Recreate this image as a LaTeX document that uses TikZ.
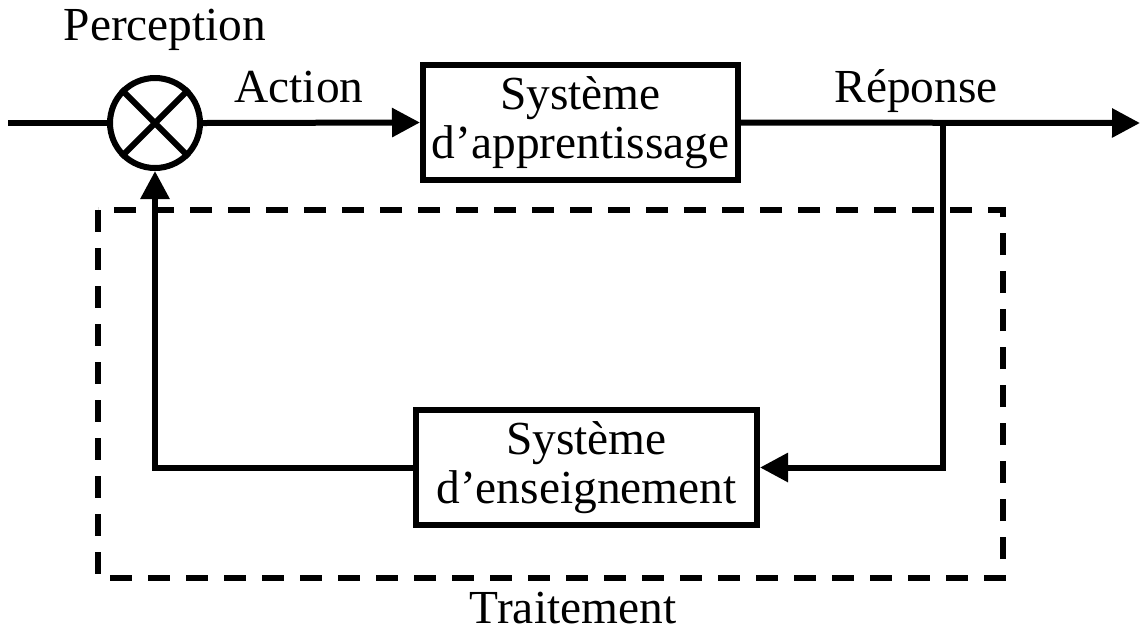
\documentclass[tikz,border=0pt]{standalone}
\usepackage{fontspec}
\setmainfont{Liberation Serif}
\usetikzlibrary{arrows.meta}
\begin{document}
\begin{tikzpicture}[x=0.5pt,y=-0.5pt,
  wire/.style={line width=3pt},
  arr/.style={wire,-{Triangle[length=14pt,width=14pt]}},
  block/.style={draw,line width=3pt,inner sep=0pt,align=center,
    font=\fontsize{23.7}{24.5}\selectfont},
  lbl/.style={inner sep=0pt,anchor=base,font=\fontsize{23.7}{24.5}\selectfont},
  frame/.style={line width=3pt,dash pattern=on 11pt off 8pt}]
\useasboundingbox (0,0) rectangle (1140,634);

% summing junction
\node[circle,draw,line width=3pt,minimum size=45pt,inner sep=0pt] (sum) at (155,123) {};
\draw[wire] (sum.north west) -- (sum.south east) (sum.north east) -- (sum.south west);

% blocks
\node[block,minimum width=157.5pt,minimum height=57.5pt] (learn) at (580.5,122.5)
  {Système\\d’apprentissage};
\node[block,minimum width=170.5pt,minimum height=57.5pt] (teach) at (586.5,467.5)
  {Système\\d’enseignement};

% signal paths
\coordinate (in) at (8,123);
\coordinate (out) at (1140,123);
\coordinate (br) at (943,123);
\draw[wire] (in) -- (sum.west);
\draw[arr] (sum.east) -- (learn.west);
\draw[arr] (learn.east) -- (out);
\draw[arr] (br) |- (teach.east);
\draw[arr] (teach.west) -| (sum.south);

% processing frame
\draw[frame] (98,210) rectangle (1003,578);

% labels
\node[lbl] (perc) at (165,40) {Perception};
\node[lbl] (act) at (299,102) {Action};
\node[lbl] (rep) at (916,102) {Réponse};
\node[lbl] (trt) at (573,623) {Traitement};
\end{tikzpicture}
\end{document}
